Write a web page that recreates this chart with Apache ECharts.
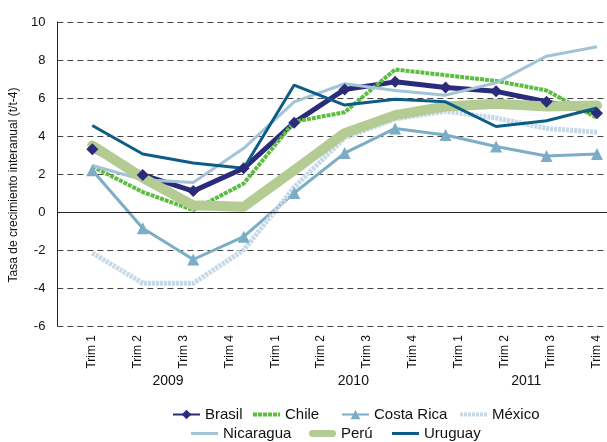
<!DOCTYPE html>
<html>
<head>
<meta charset="utf-8">
<script src="https://cdn.jsdelivr.net/npm/echarts@6/dist/echarts.min.js"></script>
<style>
  html, body { margin: 0; padding: 0; background: #fff; }
  #chart { width: 607px; height: 442px; }
</style>
</head>
<body>
<div id="chart"></div>
<script>
// etiquetas del eje horizontal (12 trimestres)
const trimLabels = ["Trim 1", "Trim 2", "Trim 3", "Trim 4", "Trim 1", "Trim 2", "Trim 3", "Trim 4", "Trim 1", "Trim 2", "Trim 3", "Trim 4"];
const yearLabels = ["2009", "2010", "2011"];
const yearPos = [1.67, 5.7, 9.46];

// series (11 puntos cada una)
const brasil = [3.3, 1.95, 1.1, 2.3, 4.7, 6.45, 6.85, 6.55, 6.35, 5.8, 5.2];
const chile = [2.4, 1.05, 0.1, 1.5, 4.75, 5.25, 7.5, 7.2, 6.9, 6.4, 4.95];
const costaRica = [2.2, -0.85, -2.5, -1.3, 1.0, 3.1, 4.4, 4.05, 3.45, 2.95, 3.05];
const mexico = [-2.15, -3.75, -3.75, -2.0, 1.3, 3.9, 4.9, 5.3, 4.95, 4.4, 4.2];
const nicaragua = [2.45, 1.7, 1.55, 3.35, 5.8, 6.75, 6.4, 6.15, 6.8, 8.2, 8.7];
const peru = [3.5, 1.8, 0.35, 0.28, 2.2, 4.15, 5.1, 5.55, 5.7, 5.55, 5.6];
const uruguay = [4.55, 3.05, 2.58, 2.3, 6.68, 5.63, 5.93, 5.8, 4.5, 4.8, 5.47];

const font = "Liberation Sans, Arial, sans-serif";

// iconos de leyenda
const icons = {
    line: "path://M0,0 H27 V3 H0 Z",
    dashed: "path://M0,0 h4 v4 h-4 Z M5,0 h4 v4 h-4 Z M10,0 h4 v4 h-4 Z M15,0 h4 v4 h-4 Z M20,0 h4 v4 h-4 Z M25,0 h2 v4 h-2 Z",
    dotted: "path://M0,0 h3 v4 h-3 Z M4,0 h3 v4 h-3 Z M8,0 h3 v4 h-3 Z M12,0 h3 v4 h-3 Z M16,0 h3 v4 h-3 Z M20,0 h3 v4 h-3 Z M24,0 h3 v4 h-3 Z",
    thick: "path://M4,0 H27 A4,4 0 0 1 27,8 H4 A4,4 0 0 1 4,0 Z",
};

function pts(arr) {
    return arr.map((v, i) => [i, v]);
}

// una leyenda por elemento para colocarlos como en columnas
function legendItem(name, left, top, icon) {
    const item = { name: name };
    if (icon) item.icon = icon;
    return {
        data: [item], left: left, top: top,
        itemWidth: 27, itemHeight: 12, itemGap: 0,
        textStyle: { fontSize: 15, color: "#111", fontFamily: font },
    };
}

const chart = echarts.init(document.getElementById("chart"));

chart.setOption({
    animation: false,
    textStyle: { fontFamily: font },
    grid: { left: 56, right: 0, top: 22, bottom: 116, containLabel: false },
    legend: [
        legendItem("Brasil", 167, 402),
        legendItem("Chile", 248, 402, icons.dashed),
        legendItem("Costa Rica", 336, 402),
        legendItem("México", 455, 402, icons.dotted),
        legendItem("Nicaragua", 186, 421, icons.line),
        legendItem("Perú", 304, 421, icons.thick),
        legendItem("Uruguay", 387, 421, icons.line),
    ],
    xAxis: [
        // etiquetas de trimestre
        {
            type: "value", min: -0.738, max: 11.217, position: "bottom",
            axisLine: { show: false }, axisTick: { show: false }, splitLine: { show: false },
            axisLabel: {
                customValues: trimLabels.map((_, i) => i),
                formatter: (v) => trimLabels[Math.round(v)],
                rotate: 90, fontSize: 12, color: "#111", margin: 9,
            },
        },
        // eje de datos
        {
            type: "value", min: -0.692, max: 10.198, show: false,
        },
        // años
        {
            type: "value", min: -0.738, max: 11.217, position: "bottom",
            axisLine: { show: false }, axisTick: { show: false }, splitLine: { show: false },
            axisLabel: {
                customValues: yearPos,
                formatter: (v) => {
                    let k = 0;
                    yearPos.forEach((p, i) => { if (Math.abs(p - v) < Math.abs(yearPos[k] - v)) k = i; });
                    return yearLabels[k];
                },
                fontSize: 14, color: "#111", margin: 48,
            },
        },
    ],
    yAxis: {
        type: "value", min: -6, max: 10, interval: 2,
        name: "Tasa de crecimiento interanual (t/t-4)",
        nameLocation: "middle", nameGap: 31,
        nameTextStyle: { fontSize: 12, color: "#111", padding: [0, 22, 0, 0] },
        axisLine: { show: true, onZero: false, lineStyle: { color: "#222", width: 1 } },
        axisTick: { show: false },
        axisLabel: { fontSize: 13, color: "#111", margin: 12 },
        splitLine: { lineStyle: { type: [6, 4], color: "#444", width: 1 } },
    },
    series: [
        {
            name: "Brasil", type: "line", xAxisIndex: 1, data: pts(brasil),
            color: "#2b2b7b", symbol: "diamond", symbolSize: 12,
            lineStyle: { width: 5 },
            markLine: {
                silent: true, symbol: "none", label: { show: false },
                lineStyle: { color: "#222", type: "solid", width: 1 },
                data: [{ yAxis: 0 }],
            },
        },
        {
            name: "Chile", type: "line", xAxisIndex: 1, data: pts(chile),
            color: "#5cbd40", symbol: "none",
            lineStyle: { width: 4, type: [4, 1] },
        },
        {
            name: "Costa Rica", type: "line", xAxisIndex: 1, data: pts(costaRica),
            color: "#7badc6", symbol: "triangle", symbolSize: 12,
            lineStyle: { width: 3 },
        },
        {
            name: "México", type: "line", xAxisIndex: 1, data: pts(mexico),
            color: "#c5d9e8", symbol: "none",
            lineStyle: { width: 5, type: [3, 1] },
        },
        {
            name: "Nicaragua", type: "line", xAxisIndex: 1, data: pts(nicaragua),
            color: "#a3c3d7", symbol: "none",
            lineStyle: { width: 3 },
        },
        {
            name: "Perú", type: "line", xAxisIndex: 1, data: pts(peru),
            color: "#b4cc94", symbol: "none",
            lineStyle: { width: 10, cap: "round", join: "round" },
        },
        {
            name: "Uruguay", type: "line", xAxisIndex: 1, data: pts(uruguay),
            color: "#0c5d86", symbol: "none",
            lineStyle: { width: 3 },
        },
    ],
});
</script>
</body>
</html>
